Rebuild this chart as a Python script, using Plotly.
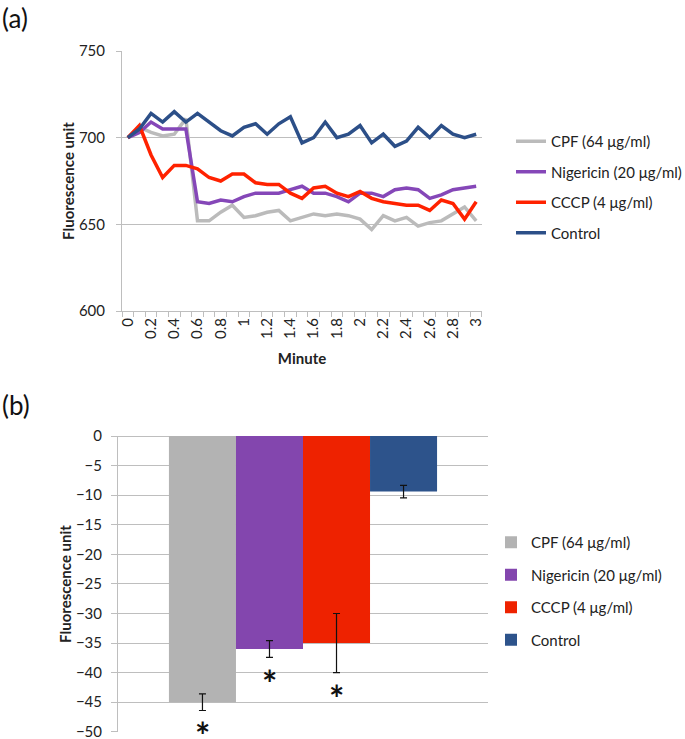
import plotly.graph_objects as go

# ---- data -------------------------------------------------------------
minutes = [round(i * 0.1, 1) for i in range(31)]
tick_vals = [round(i * 0.2, 1) for i in range(16)]
tick_text = ["0", "0.2", "0.4", "0.6", "0.8", "1", "1.2", "1.4", "1.6", "1.8",
             "2", "2.2", "2.4", "2.6", "2.8", "3"]

series_names = ["CPF (64 μg/ml)", "Nigericin (20 μg/ml)", "CCCP (4 μg/ml)", "Control"]

cpf = [700, 706, 703, 701, 702, 711, 652, 652, 657, 661, 654, 655, 657, 658, 652, 654,
       656, 655, 656, 655, 653, 647, 655, 652, 654, 649, 651, 652, 656, 660, 652]
nigericin = [700, 703, 709, 705, 705, 705, 663, 662, 664, 663, 666, 668, 668, 668, 670, 672,
             668, 668, 666, 663, 668, 668, 666, 670, 671, 670, 665, 667, 670, 671, 672]
cccp = [700, 707, 690, 677, 684, 684, 682, 677, 675, 679, 679, 674, 673, 673, 668, 665,
        671, 672, 668, 666, 669, 665, 663, 662, 661, 661, 658, 664, 662, 653, 663]
control = [700, 705, 714, 709, 715, 709, 714, 709, 704, 701, 706, 708, 702, 708, 712, 697,
           700, 709, 700, 702, 707, 697, 702, 695, 698, 706, 700, 707, 702, 700, 702]

bar_values = [-45, -36, -35, -9.4]
bar_errors = [1.4, 1.4, 5.0, 1.05]
star_y = [-49.1, -40.4, -42.9]   # asterisk positions (significant groups)

line_colors = ["#BBBBBB", "#8547B8", "#FF2200", "#2C4F88"]
bar_colors = ["#B3B3B3", "#8346AE", "#EE2200", "#2D538B"]

FONT = "Lato, Open Sans, sans-serif"
GRID = "#BEBEBE"
W, H = 685, 739

fig = go.Figure()

# ---- (a) line chart ----------------------------------------------------
for i, (name, ys) in enumerate(zip(series_names, [cpf, nigericin, cccp, control])):
    fig.add_trace(go.Scatter(
        x=minutes, y=ys, mode="lines", name=name,
        line=dict(color=line_colors[i], width=3.5),
        legend="legend", legendgroup=f"a{i}",
        xaxis="x", yaxis="y",
    ))

# ---- (b) bar chart -----------------------------------------------------
for i, name in enumerate(series_names):
    fig.add_trace(go.Bar(
        x=[i], y=[bar_values[i]], name=name, width=1,
        marker=dict(color=bar_colors[i], line=dict(width=0)),
        error_y=dict(type="data", array=[bar_errors[i]], color="#111111",
                     thickness=1.2, width=3.5),
        legend="legend2", legendgroup=f"b{i}",
        xaxis="x2", yaxis="y2",
    ))

annotations = [
    dict(text="(a)", x=0.0, y=1.0, xref="paper", yref="paper", xanchor="left",
         yanchor="top", showarrow=False, font=dict(size=26, family=FONT, color="#111")),
    dict(text="(b)", x=0.0, y=1 - 387 / H, xref="paper", yref="paper", xanchor="left",
         yanchor="top", showarrow=False, font=dict(size=26, family=FONT, color="#111")),
]
for i, sy in enumerate(star_y):
    annotations.append(dict(text="<b>*</b>", x=i, y=sy, xref="x2", yref="y2",
                            showarrow=False, yshift=-8,
                            font=dict(size=36, family=FONT, color="#111")))

fig.update_layout(
    width=W, height=H,
    margin=dict(l=0, r=0, t=0, b=0, autoexpand=False),
    paper_bgcolor="white", plot_bgcolor="white",
    font=dict(family=FONT, size=15, color="#222"),
    showlegend=True,
    annotations=annotations,
    xaxis=dict(
        domain=[122 / W, 482 / W], anchor="y", automargin=False,
        range=[-0.0501, 3.0501],
        tickmode="array", tickvals=tick_vals, ticktext=tick_text,
        tickangle=-90, ticks="", showgrid=False, zeroline=False,
        showline=True, linecolor=GRID, linewidth=1,
        minor=dict(ticks="outside", tick0=-0.05, dtick=0.1, ticklen=5,
                   tickcolor=GRID, showgrid=False),
        tickfont=dict(size=15, color="#222"),
        title=dict(text="<b>Minute</b>", font=dict(size=15), standoff=15),
    ),
    yaxis=dict(
        domain=[1 - 311 / H, 1 - 51 / H], anchor="x", automargin=False,
        range=[600, 750], dtick=50, tick0=600,
        showgrid=True, gridcolor=GRID, gridwidth=1, zeroline=False,
        showline=True, linecolor=GRID, linewidth=1,
        ticks="outside", ticklen=5, tickcolor=GRID, ticklabelstandoff=8,
        tickfont=dict(size=15, color="#222"),
        title=dict(text="<b>Fluorescence unit</b>", font=dict(size=15), standoff=0),
    ),
    xaxis2=dict(
        domain=[118 / W, 488 / W], anchor="y2", automargin=False,
        range=[-1.26, 4.26], showticklabels=False, ticks="",
        showgrid=False, zeroline=False, showline=False,
    ),
    yaxis2=dict(
        domain=[1 - 732 / H, 1 - 436 / H], anchor="x2", automargin=False,
        range=[-50.03, 0], dtick=5, tick0=0,
        showgrid=True, gridcolor=GRID, gridwidth=1,
        zeroline=True, zerolinecolor=GRID, zerolinewidth=1,
        showline=True, linecolor=GRID, linewidth=1,
        ticks="outside", ticklen=6, tickcolor=GRID, ticklabelstandoff=6,
        ticklabeloverflow="allow",
        tickfont=dict(size=15, color="#222"),
        title=dict(text="<b>Fluorescence unit</b>", font=dict(size=15), standoff=0),
    ),
    barmode="overlay",
    legend=dict(x=511 / W, y=1 - 125 / H, xanchor="left", yanchor="top",
                bgcolor="rgba(0,0,0,0)", tracegroupgap=8,
                font=dict(size=15, color="#222")),
    legend2=dict(x=491 / W, y=1 - 526 / H, xanchor="left", yanchor="top",
                 bgcolor="rgba(0,0,0,0)", tracegroupgap=10,
                 font=dict(size=15, color="#222")),
)

# drop the browser's default body margin so the figure sits at the page origin
fig.write_html("out.html", config={"displayModeBar": False},
               post_script="document.body.style.margin='0';")
